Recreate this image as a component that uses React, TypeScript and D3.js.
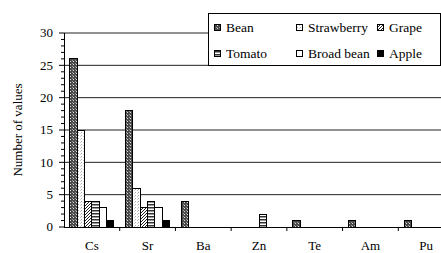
import * as d3 from 'd3';

const WIDTH = 441;
const HEIGHT = 253;

// plot frame (the source chart was cropped on the right)
const PLOT = { left: 64, top: 33, bottom: 227, right: 454 };
const FONT = 'Liberation Serif';

const categories = ['Cs', 'Sr', 'Ba', 'Zn', 'Te', 'Am', 'Pu'];
const series = ['Bean', 'Strawberry', 'Grape', 'Tomato', 'Broad bean', 'Apple'];

const bean = [26, 18, 4, 0, 1, 1, 1];
const strawberry = [15, 6, 0, 0, 0, 0, 0];
const grape = [4, 3, 0, 0, 0, 0, 0];
const tomato = [4, 4, 0, 2, 0, 0, 0];
const broadBean = [3, 3, 0, 0, 0, 0, 0];
const apple = [1, 1, 0, 0, 0, 0, 0];

const yTicks = [0, 5, 10, 15, 20, 25, 30];

const values = [bean, strawberry, grape, tomato, broadBean, apple];
const fills = ['url(#pBean)', 'url(#pStraw)', 'url(#pGrape)', 'url(#pTomato)', '#fff', '#000'];

export default function App() {
    const x = d3.scaleBand().domain(categories).range([PLOT.left, PLOT.right]);
    const bw = x.bandwidth();
    const pad = 5.8;
    const xs = d3.scaleBand().domain(series).range([pad, bw - pad]);
    const y = d3.scaleLinear().domain([0, 30]).range([PLOT.bottom, PLOT.top]);

    const minor = d3.range(0, 31).filter(v => v % 5 !== 0);

    const bars = series.map((s, si) =>
        categories.map((c, ci) => {
            const v = values[si][ci];
            if (!v) return null;
            return (
                <rect
                    key={s + c}
                    x={(x(c) ?? 0) + (xs(s) ?? 0)}
                    y={y(v)}
                    width={xs.bandwidth()}
                    height={y(0) - y(v)}
                    fill={fills[si]}
                    stroke="#000"
                    strokeWidth={1}
                    shapeRendering="crispEdges"
                />
            );
        })
    );

    // legend layout: 3 columns x 2 rows
    const legCols = [214, 296, 377];
    const legRows = [24, 50];

    return (
        <svg width={WIDTH} height={HEIGHT} style={{ position: 'absolute', left: 0, top: 0, background: '#fff' }}>
            <defs>
                <pattern id="pBean" width={3} height={3} patternUnits="userSpaceOnUse">
                    <rect width={3} height={3} fill="#4a4a4a" />
                    <rect x={1} y={1} width={1} height={1} fill="#ddd" />
                    <rect x={0} y={0} width={1} height={1} fill="#999" />
                </pattern>
                <pattern id="pStraw" width={3} height={3} patternUnits="userSpaceOnUse">
                    <rect width={3} height={3} fill="#fff" />
                    <rect x={0} y={0} width={1} height={1} fill="#aaa" />
                    <rect x={2} y={1} width={1} height={1} fill="#ccc" />
                </pattern>
                <pattern id="pGrape" width={3} height={3} patternUnits="userSpaceOnUse">
                    <rect width={3} height={3} fill="#fff" />
                    <path d="M-1,1 l2,-2 M0,3 l3,-3 M2,4 l2,-2" stroke="#222" strokeWidth={1} />
                </pattern>
                <pattern id="pTomato" width={3} height={3} patternUnits="userSpaceOnUse">
                    <rect width={3} height={3} fill="#fff" />
                    <rect x={0} y={0} width={3} height={1.5} fill="#333" />
                </pattern>
            </defs>

            {/* gridlines */}
            {yTicks.filter(t => t > 0).map(t => (
                <line key={t} x1={PLOT.left} x2={WIDTH} y1={y(t)} y2={y(t)} stroke="#222" strokeWidth={1} />
            ))}

            {bars}

            {/* y axis */}
            <line x1={PLOT.left + 0.5} x2={PLOT.left + 0.5} y1={PLOT.top} y2={PLOT.bottom} stroke="#000" />
            {yTicks.map(t => (
                <g key={t}>
                    <line x1={PLOT.left - 5} x2={PLOT.left} y1={y(t)} y2={y(t)} stroke="#000" />
                    <text x={53} y={y(t)} dy="0.34em" textAnchor="end" fontFamily={FONT} fontSize={13}>
                        {t}
                    </text>
                </g>
            ))}
            {minor.map(t => (
                <line key={t} x1={PLOT.left - 3} x2={PLOT.left} y1={y(t)} y2={y(t)} stroke="#000" />
            ))}
            <text
                transform={`translate(18,${(PLOT.top + PLOT.bottom) / 2}) rotate(-90)`}
                textAnchor="middle"
                dy="0.34em"
                fontFamily={FONT}
                fontSize={13}
            >
                Number of values
            </text>

            {/* x axis */}
            <line x1={PLOT.left} x2={WIDTH} y1={PLOT.bottom + 0.5} y2={PLOT.bottom + 0.5} stroke="#000" />
            {categories.map((c, i) => (
                <g key={c}>
                    {i > 0 && (
                        <line x1={x(c)} x2={x(c)} y1={PLOT.bottom} y2={PLOT.bottom + 4} stroke="#000" />
                    )}
                    <text x={(x(c) ?? 0) + bw / 2} y={250} textAnchor="middle" fontFamily={FONT} fontSize={13}>
                        {c}
                    </text>
                </g>
            ))}

            {/* legend */}
            <rect x={208.5} y={13.5} width={232} height={52} fill="#fff" stroke="#000" />
            {series.map((s, i) => {
                const lx = legCols[i % 3];
                const ly = legRows[Math.floor(i / 3)];
                return (
                    <g key={s}>
                        <rect x={lx + 0.5} y={ly + 0.5} width={6} height={6} fill={fills[i]} stroke="#000" shapeRendering="crispEdges" />
                        <text x={lx + 12} y={ly + 3.5} dy="0.34em" fontFamily={FONT} fontSize={13.5}>
                            {s}
                        </text>
                    </g>
                );
            })}
        </svg>
    );
}
